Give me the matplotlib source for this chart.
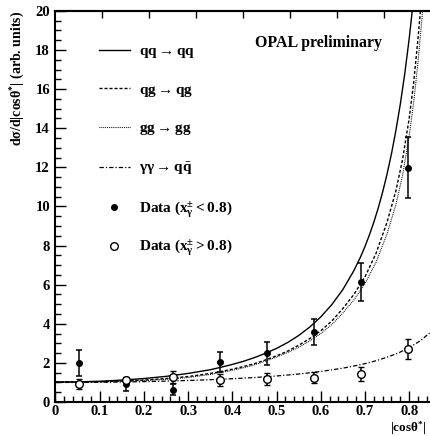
import numpy as np
import matplotlib
matplotlib.use("Agg")
import matplotlib.pyplot as plt
from matplotlib.lines import Line2D

plt.rcParams['font.family'] = ['Liberation Serif', 'DejaVu Serif']
plt.rcParams['font.weight'] = 'bold'
plt.rcParams['mathtext.fontset'] = 'custom'
plt.rcParams['mathtext.rm'] = 'Liberation Serif:bold'
plt.rcParams['mathtext.it'] = 'Liberation Serif:bold'
plt.rcParams['mathtext.bf'] = 'Liberation Serif:bold'
plt.rcParams['mathtext.default'] = 'rm'

# data points (bin centres of |cos theta*|)
bin_centres = [0.053, 0.159, 0.266, 0.372, 0.478, 0.584, 0.691, 0.797]
bin_edges = [0.10625, 0.2125, 0.31875, 0.425, 0.53125, 0.6375, 0.74375]

lowx_y = [1.98, 0.90, 0.63, 2.05, 2.49, 3.56, 6.15, 11.98]
lowx_err = [0.66, 0.35, 0.28, 0.50, 0.58, 0.67, 0.98, 1.56]

highx_y = [0.92, 1.10, 1.28, 1.13, 1.18, 1.24, 1.43, 2.71]
highx_err = [0.27, 0.18, 0.32, 0.30, 0.30, 0.28, 0.34, 0.53]

# theory curves
qq_x = [0, .05, .1, .15, .2, .25, .3, .35, .375, .4, .425, .45, .475, .5, .525,
        .55, .575, .6, .625, .65, .675, .69, .7, .71, .72, .73, .74, .75, .76,
        .77, .78, .79, .8, .805, .81]
qq_y = [1.02, 1.03, 1.06, 1.12, 1.20, 1.31, 1.46, 1.65, 1.78, 1.92, 2.08, 2.27,
        2.49, 2.74, 3.04, 3.40, 3.83, 4.35, 4.98, 5.75, 6.72, 7.42, 7.95, 8.54,
        9.19, 9.92, 10.74, 11.66, 12.70, 13.89, 15.24, 16.79, 18.58, 19.60, 20.69]

qg_x = [0, .05, .1, .15, .2, .25, .3, .35, .375, .4, .425, .45, .475, .5, .525,
        .55, .575, .6, .625, .65, .675, .7, .725, .75, .77, .785, .8, .81, .82,
        .83]
qg_y = [1.02, 1.02, 1.04, 1.07, 1.12, 1.20, 1.30, 1.46, 1.56, 1.68, 1.81, 1.96,
        2.15, 2.36, 2.60, 2.90, 3.24, 3.64, 4.14, 4.78, 5.50, 6.40, 7.60, 9.20,
        10.80, 12.40, 14.50, 16.30, 18.60, 21.20]

gg_x = [0, .05, .1, .15, .2, .25, .3, .35, .375, .4, .425, .45, .475, .5, .525,
        .55, .575, .6, .625, .65, .675, .7, .725, .75, .77, .785, .8, .81, .82,
        .83, .835]
gg_y = [1.02, 1.02, 1.03, 1.06, 1.10, 1.16, 1.25, 1.41, 1.51, 1.62, 1.75, 1.90,
        2.09, 2.30, 2.53, 2.80, 3.12, 3.50, 3.96, 4.55, 5.22, 6.05, 7.15, 8.60,
        10.10, 11.60, 13.60, 15.30, 17.40, 19.90, 21.20]

yy_x = [0, .05, .1, .15, .2, .25, .3, .35, .4, .45, .5, .55, .6, .65, .675,
        .7, .725, .75, .775, .8, .825, .85]
yy_y = [1.0, 1.0, 1.01, 1.02, 1.04, 1.07, 1.10, 1.14, 1.19, 1.25, 1.33, 1.43,
        1.56, 1.73, 1.84, 1.96, 2.11, 2.29, 2.50, 2.78, 3.13, 3.60]

fig = plt.figure(figsize=(4.30, 4.36), dpi=100)
ax = fig.add_axes([0.129, 0.078, 0.874, 0.897])

ax.plot(qq_x, qq_y, color='black', lw=1.0, ls='-')
ax.plot(qg_x, qg_y, color='black', lw=1.0, ls=(0, (2.2, 1.4)))
ax.plot(gg_x, gg_y, color='black', lw=0.8, ls=(0, (0.8, 0.9)))
ax.plot(yy_x, yy_y, color='black', lw=0.9, ls=(0, (3.5, 1.6, 1.0, 1.6)))

ax.errorbar(bin_centres, lowx_y, yerr=lowx_err, fmt='o', color='black',
            ms=4, capsize=2.2, elinewidth=1.1, capthick=1.1, zorder=5)
ax.errorbar(bin_centres, highx_y, yerr=highx_err, fmt='o', color='black',
            mfc='white', mec='black', mew=1.0, ms=5.5, capsize=2.2,
            elinewidth=1.1, capthick=1.1, zorder=5)

ax.set_xlim(0, 0.85)
ax.set_ylim(0, 20)
ax.set_xticks(np.arange(0, 0.85, 0.1))
ax.set_xticklabels(['0', '0.1', '0.2', '0.3', '0.4', '0.5', '0.6', '0.7', '0.8'])
ax.set_xticks(np.arange(0, 0.85, 0.02), minor=True)
ax.set_yticks(np.arange(0, 21, 2))
ax.set_yticks(np.arange(0, 20.1, 0.5), minor=True)
ax.tick_params(which='both', direction='in', top=False, right=False,
               labelsize=10.5, width=1.0)
ax.tick_params(which='major', length=8, pad=4)
ax.tick_params(axis='x', which='major', pad=2)
ax.tick_params(which='minor', length=4)
for lab in ax.get_xticklabels() + ax.get_yticklabels():
    lab.set_fontweight('bold')

top = ax.secondary_xaxis('top')
top.set_xticks(bin_edges)
top.set_xticklabels([])
top.tick_params(direction='in', length=5, width=1.0)
top.spines['top'].set_linewidth(1.5)

for side in ['left', 'bottom', 'top', 'right']:
    ax.spines[side].set_linewidth(1.5)

ax.set_ylabel(r'd$\sigma$/d|cos$\theta^{*}$| (arb. units)', fontsize=10,
              fontweight='bold', loc='top', labelpad=6)
ax.set_xlabel(r'|cos$\theta^{*}$|', fontsize=9.5, fontweight='bold',
              loc='right')
ax.xaxis.set_label_coords(0.988, -0.045)

ax.text(0.53, 0.918, 'OPAL preliminary', transform=ax.transAxes,
        fontsize=11.4, fontweight='bold', ha='left', va='center')

# legend, upper block: curves + first data set
handles = [
    Line2D([], [], color='black', lw=1.0, ls='-'),
    Line2D([], [], color='black', lw=1.0, ls=(0, (2.2, 1.4))),
    Line2D([], [], color='black', lw=0.8, ls=(0, (0.8, 0.9))),
    Line2D([], [], color='black', lw=0.9, ls=(0, (3.5, 1.6, 1.0, 1.6))),
    Line2D([], [], color='black', ls='none', marker='o', ms=4),
]
labels = [
    r'$qq \rightarrow qq$',
    r'$qg \rightarrow qg$',
    r'$gg \rightarrow gg$',
    r'$\gamma\gamma \rightarrow q\bar{q}$',
    r'Data ($x_{\gamma}^{\pm} < 0.8$)',
]
leg = ax.legend(handles, labels, loc='upper left', bbox_to_anchor=(0.1, 0.93),
                frameon=False, fontsize=11, labelspacing=1.5,
                handlelength=2.0, handletextpad=0.6, borderaxespad=0)
for t in leg.get_texts():
    t.set_fontweight('bold')
ax.add_artist(leg)

# second data set entry
open_handle = Line2D([], [], color='black', ls='none', marker='o', ms=5.5,
                     mfc='white', mew=1.0)
leg2 = ax.legend([open_handle], [r'Data ($x_{\gamma}^{\pm} > 0.8$)'],
                 loc='upper left', bbox_to_anchor=(0.1, 0.435),
                 frameon=False, fontsize=11, handlelength=2.0,
                 handletextpad=0.6, borderaxespad=0)
for t in leg2.get_texts():
    t.set_fontweight('bold')

fig.savefig('out.png', dpi=100)
